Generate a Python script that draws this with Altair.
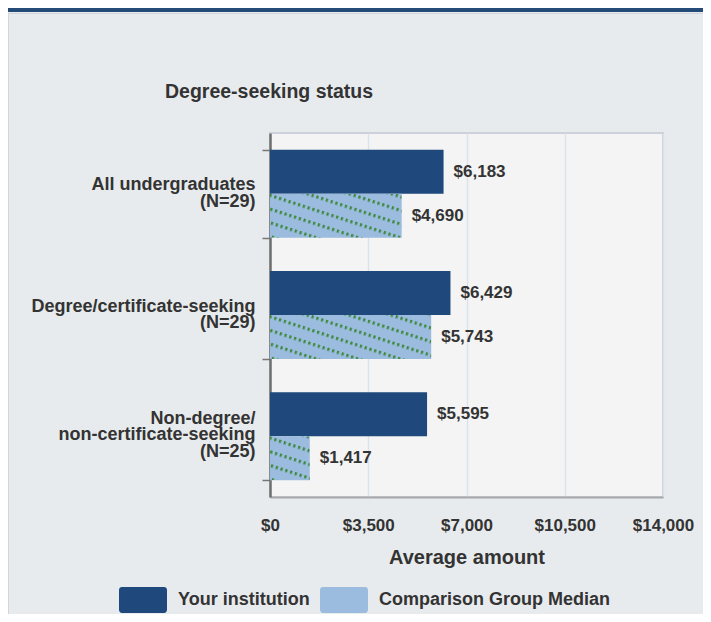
import altair as alt
import pandas as pd
from urllib.parse import quote

# ---- data ----
categories = [
    "All undergraduates|(N=29)",
    "Degree/certificate-seeking|(N=29)",
    "Non-degree/|non-certificate-seeking|(N=25)",
]
series = ["Your institution", "Comparison Group Median"]
institution = [6183, 6429, 5595]
comparison = [4690, 5743, 1417]
x_ticks = [0, 3500, 7000, 10500, 14000]
colors = ["#1f497d", "#9bbbdf"]
chart_title = "Degree-seeking status"

rows = []
for c, a, b in zip(categories, institution, comparison):
    rows.append({"category": c, "series": series[0], "amount": a})
    rows.append({"category": c, "series": series[1], "amount": b})
df = pd.DataFrame(rows)

FONT = "Liberation Sans"
TXT = "#333333"

# dotted diagonal hatch (green dots) as an SVG image laid over the light bars
hatch_svg = (
    "<svg xmlns='http://www.w3.org/2000/svg' width='100%' height='100%'>"
    "<defs><pattern id='p' width='5' height='13' patternUnits='userSpaceOnUse' "
    "patternTransform='rotate(18)'>"
    "<rect x='0' y='0' width='2.2' height='3.2' fill='#3f8a3f'/></pattern></defs>"
    "<rect width='100%' height='100%' fill='url(#p)'/></svg>"
)
hatch_url = "data:image/svg+xml;charset=utf-8," + quote(hatch_svg)

y_enc = alt.Y(
    "category:N",
    sort=categories,
    scale=alt.Scale(paddingInner=0.275, paddingOuter=0.1375),
    axis=alt.Axis(
        title=None,
        labelExpr="split(datum.label, '|')",
        labelFont=FONT,
        labelFontSize=18,
        labelFontWeight="bold",
        labelColor=TXT,
        labelLineHeight=16.5,
        labelAlign="right",
        labelBaseline="middle",
        labelOffset={
            "condition": {"test": "length(split(datum.value, '|')) > 2", "value": -18},
            "value": -9,
        },
        labelLimit=0,
        labelPadding=7,
        tickBand="extent",
        tickSize=8,
        tickColor="#777777",
        tickWidth=1.5,
        domainColor="#6f6f6f",
        domainWidth=2.5,
        grid=False,
    ),
)
yoff_enc = alt.YOffset("series:N", sort=series, scale=alt.Scale(paddingInner=0, paddingOuter=0))
x_enc = alt.X(
    "amount:Q",
    scale=alt.Scale(domain=[0, 14000], nice=False),
    axis=alt.Axis(
        title="Average amount",
        titleFont=FONT,
        titleFontSize=20,
        titleFontWeight="bold",
        titleColor=TXT,
        titlePadding=14,
        values=x_ticks,
        format="$,.0f",
        labelFont=FONT,
        labelFontSize=17,
        labelFontWeight="bold",
        labelColor=TXT,
        labelPadding=20,
        labelFlush=False,
        labelOverlap=False,
        tickSize=0,
        domainColor="#a8a8a8",
        domainWidth=2,
        grid=True,
        gridColor="#dbe2ec",
        gridWidth=1.5,
    ),
)

base = alt.Chart(df)

bars = base.mark_bar().encode(
    x=x_enc,
    y=y_enc,
    yOffset=yoff_enc,
    color=alt.Color(
        "series:N",
        sort=series,
        scale=alt.Scale(domain=series, range=colors),
        legend=alt.Legend(title=None),
    ),
)

hatch = base.transform_filter(alt.datum.series == series[1]).mark_image(
    aspect=False, url=hatch_url
).encode(
    x=alt.X("amount:Q"),
    x2=alt.datum(0),
    y=alt.Y("category:N", sort=categories),
    yOffset=alt.YOffset("series:N", sort=series),
)

labels = base.mark_text(
    align="left", baseline="middle", dx=10, font=FONT, fontSize=17, fontWeight="bold", color=TXT
).encode(
    x=alt.X("amount:Q"),
    y=alt.Y("category:N", sort=categories),
    yOffset=alt.YOffset("series:N", sort=series),
    text=alt.Text("amount:Q", format="$,.0f"),
)

deco = alt.Chart(pd.DataFrame({"title": [chart_title]}))
top_bar = deco.mark_rule(color="#244a78", strokeWidth=4).encode(
    x=alt.value(-262), x2=alt.value(433), y=alt.value(-123)
)
panel_top = deco.mark_rule(color="#d2d5d9", strokeWidth=1).encode(
    x=alt.value(-262), x2=alt.value(433), y=alt.value(-119.5)
)
panel_left = deco.mark_rule(color="#d2d5d9", strokeWidth=1).encode(
    x=alt.value(-261.5), y=alt.value(-120), y2=alt.value(481)
)
title_text = deco.mark_text(
    align="left", baseline="middle", font=FONT, fontSize=19.5, fontWeight="bold", color=TXT
).encode(x=alt.value(-105), y=alt.value(-41), text="title:N")

chart = (
    alt.layer(top_bar, panel_top, panel_left, title_text, bars, hatch, labels)
    .properties(
        width=393,
        height=364,
        autosize=alt.AutoSizeParams(type="none"),
        padding={"left": 262, "top": 125, "right": 40, "bottom": 117},
        background="#e8ebee",
    )
    .configure_view(fill="#f4f4f4", stroke="#cdd2da", strokeWidth=2)
    .configure_legend(
        orient="none",
        legendX=-151,
        legendY=443,
        direction="horizontal",
        padding=0,
        symbolType="M-0.88,-0.54H0.88A0.12,0.12 0 0 1 1,-0.42V0.42A0.12,0.12 0 0 1 0.88,0.54H-0.88A0.12,0.12 0 0 1 -1,0.42V-0.42A0.12,0.12 0 0 1 -0.88,-0.54Z",
        symbolSize=2304,
        symbolStrokeWidth=0,
        symbolOpacity=1,
        labelFont=FONT,
        labelFontSize=18,
        labelFontWeight="bold",
        labelColor=TXT,
        labelOffset=11,
        columnPadding=10,
        labelLimit=0,
    )
)

chart.save("out.html", embed_options={"renderer": "svg", "actions": False})
